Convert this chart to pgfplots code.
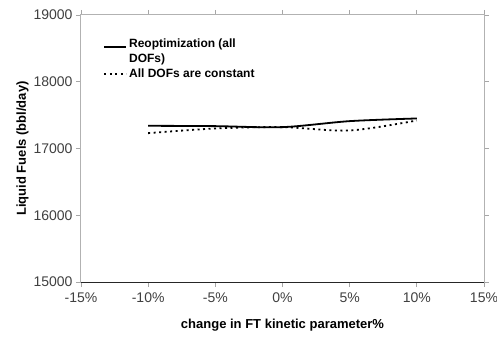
\documentclass[border=0pt]{standalone}
\usepackage{pgfplots}
\pgfplotsset{compat=1.18}
\usepackage{fontspec}
\setmainfont{Liberation Sans}
\pgfplotsset{upleg/.style={legend image code/.code={\draw[##1] (0pt,4pt) -- (22pt,4pt);}}}
\begin{document}
\begin{tikzpicture}
\useasboundingbox (-81pt,-58pt) rectangle (416pt,282pt);
\begin{axis}[
  at={(0pt,0pt)}, anchor=south west,
  scale only axis,
  width=403pt, height=267pt,
  xmin=-15, xmax=15, ymin=15000, ymax=19000,
  xtick={-15,-10,...,15},
  ytick={15000,16000,...,19000},
  xticklabel={\pgfmathprintnumber{\tick}\%},
  /pgf/number format/assume math mode=true,
  scaled y ticks=false,
  yticklabel style={/pgf/number format/1000 sep={}, font=\fontsize{14}{16}\selectfont, text=black!75},
  xticklabel style={font=\fontsize{14}{16}\selectfont, text=black!75, yshift=-2pt},
  tick align=outside,
  tick style={gray!70, line width=0.8pt},
  major tick length=5pt,
  axis line style={gray!60, line width=1pt},
  xlabel={\textbf{change in FT kinetic parameter\%}},
  ylabel={\textbf{Liquid Fuels (bbl/day)}},
  label style={font=\fontsize{13}{15}\selectfont},
  xlabel style={yshift=-10pt},
  ylabel style={yshift=-2pt},
  legend style={draw=none, fill=none, at={(0.055,0.92)}, anchor=north west,
    font=\bfseries\fontsize{12}{15}\selectfont, cells={align=left, anchor=west},
    row sep=1pt, inner sep=0pt},
  legend image code/.code={\draw[#1] (0pt,0pt) -- (22pt,0pt);},
]
\draw[black!85, line width=1pt] (rel axis cs:0,0) -- (rel axis cs:1,0);
\addplot[black, line width=1.8pt, smooth, upleg] coordinates {
  (-10,17340) (-5,17335) (0,17320) (5,17410) (10,17450)};
\addlegendentry{Reoptimization (all\\DOFs)}
\addplot[black, line width=1.8pt, dash pattern=on 2pt off 3.5pt, smooth] coordinates {
  (-10,17230) (-5,17300) (0,17320) (5,17270) (10,17420)};
\addlegendentry{All DOFs are constant}
\end{axis}
\end{tikzpicture}
\end{document}
